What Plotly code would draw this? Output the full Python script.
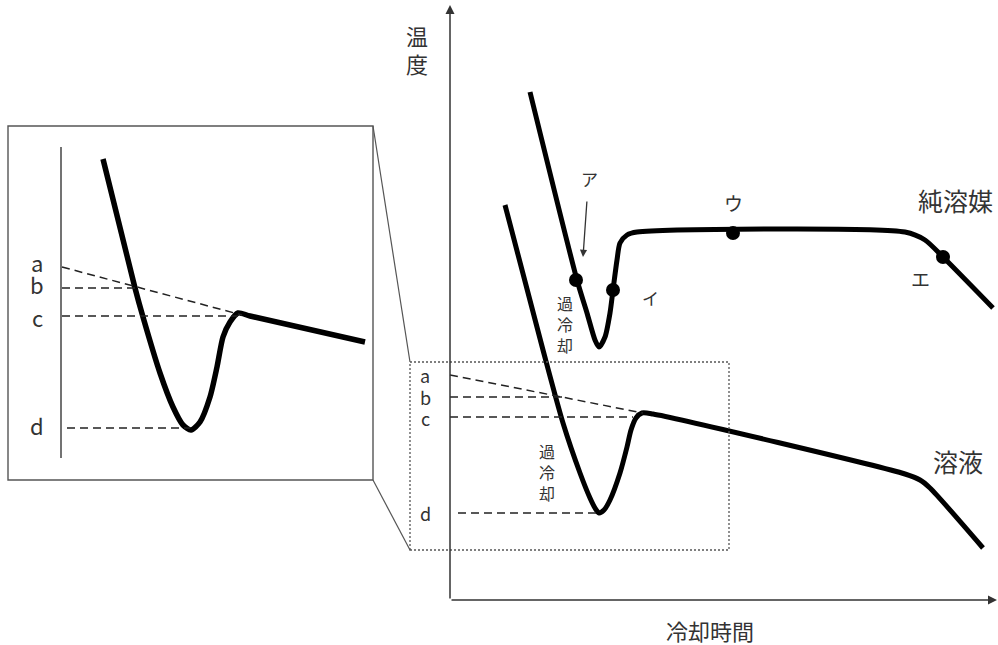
import plotly.graph_objects as go

# ---------------- data (main chart units: time t, temperature T) ----------------
solvent_t = [78, 125, 135, 143, 147, 153, 158, 161, 165, 168, 175, 185, 453, 473, 491, 541]
solvent_T = [508, 320, 287, 260, 253, 263, 287, 310, 340, 357, 365, 368, 368, 360, 343, 292]
solvent_dot_t = [124, 161, 281, 491]
solvent_dot_T = [320, 310, 367, 343]
solvent_dot_lbl = ["ア", "イ", "ウ", "エ"]

solution_t = [53, 91, 111, 128, 138, 143, 147, 152, 158, 168, 175, 179, 184, 190, 201, 453, 468, 478, 531]
solution_T = [395, 250, 177, 127, 102, 92, 87, 90, 100, 127, 153, 170, 182, 187, 186, 126, 120, 112, 52]

ref_labels = ["a", "b", "c", "d"]
ref_T = [225, 203, 183, 87]            # level of each reference temperature (main)
ref_end_t = [191, 111, 181, 146]       # where each dashed guide ends (main)
ref_end_T = [187, 203, 183, 87]

# inset (magnified) curve, own units u, V
inset_u = [42, 74, 82, 99, 112, 122, 130, 139, 149, 156, 162, 169, 177, 189, 304]
inset_V = [299, 170, 141, 85, 51, 33, 28, 36, 61, 91, 121, 136, 145, 142, 116]
inset_ref_V = [191, 170, 142, 30]
inset_ref_end_u = [181, 74, 177, 129]
inset_ref_end_V = [143, 170, 142, 30]

FONT = "Noto Sans CJK JP"
TXT = "#333333"
fig = go.Figure()

# ---------------- main chart ----------------
fig.add_trace(go.Scatter(x=solvent_t, y=solvent_T, mode="lines",
                         line=dict(color="black", width=5, shape="spline", smoothing=0.7),
                         hoverinfo="skip", showlegend=False))
fig.add_trace(go.Scatter(x=solution_t, y=solution_T, mode="lines",
                         line=dict(color="black", width=5, shape="spline", smoothing=0.7),
                         hoverinfo="skip", showlegend=False))
fig.add_trace(go.Scatter(x=solvent_dot_t, y=solvent_dot_T, mode="markers",
                         marker=dict(color="black", size=14),
                         hoverinfo="skip", showlegend=False))

starts_main = [-2, -2, -2, 6]
main_lbl_T = [225, 203, 182, 87]
for i in range(4):
    fig.add_trace(go.Scatter(x=[starts_main[i], ref_end_t[i]], y=[ref_T[i], ref_end_T[i]],
                             mode="lines", line=dict(color="#222", width=1.5, dash="8px,5px"),
                             hoverinfo="skip", showlegend=False))
    fig.add_annotation(x=-27, y=main_lbl_T[i], text=ref_labels[i], showarrow=False,
                       font=dict(family=FONT, size=18, color=TXT), xref="x", yref="y")

# ---------------- inset ----------------
fig.add_trace(go.Scatter(x=inset_u, y=inset_V, mode="lines", xaxis="x2", yaxis="y2",
                         line=dict(color="black", width=5.5, shape="spline", smoothing=0.7),
                         hoverinfo="skip", showlegend=False))
fig.add_trace(go.Scatter(x=[0, 0], y=[0, 311], mode="lines", xaxis="x2", yaxis="y2",
                         line=dict(color="#444", width=1.5), hoverinfo="skip", showlegend=False))
starts_inset = [1, 1, 1, 6]
inset_lbl_V = [196, 174, 141, 33]
for i in range(4):
    fig.add_trace(go.Scatter(x=[starts_inset[i], inset_ref_end_u[i]], y=[inset_ref_V[i], inset_ref_end_V[i]],
                             mode="lines", xaxis="x2", yaxis="y2",
                             line=dict(color="#222", width=1.5, dash="8px,5px"),
                             hoverinfo="skip", showlegend=False))
    fig.add_annotation(x=-24, y=inset_lbl_V[i], text=ref_labels[i], showarrow=False,
                       font=dict(family=FONT, size=22, color=TXT), xref="x2", yref="y2")

# ---------------- frames / connectors ----------------
fig.add_shape(type="rect", x0=-444, x1=-79, y0=120, y1=474, xref="x", yref="y",
              line=dict(color="#555", width=1.4))
fig.add_shape(type="rect", x0=-42, x1=277, y0=50, y1=238, xref="x", yref="y",
              line=dict(color="#555", width=1.3, dash="2px,2px"))
fig.add_shape(type="line", x0=-79, y0=474, x1=-42, y1=238, xref="x", yref="y",
              line=dict(color="#555", width=1.2))
fig.add_shape(type="line", x0=-79, y0=120, x1=-42, y1=50, xref="x", yref="y",
              line=dict(color="#555", width=1.2))

# ---------------- axes arrows ----------------
fig.add_annotation(x=-2, y=595, ax=-2, ay=0, xref="x", yref="y", axref="x", ayref="y",
                   text="", showarrow=True, arrowhead=2, arrowsize=1.2, arrowwidth=1.5, arrowcolor="#333")
fig.add_annotation(x=545, y=0, ax=-2, ay=0, xref="x", yref="y", axref="x", ayref="y",
                   text="", showarrow=True, arrowhead=2, arrowsize=1.2, arrowwidth=1.5, arrowcolor="#333")
# arrow pointing to ア
fig.add_annotation(x=131, y=343, ax=135, ay=400, xref="x", yref="y", axref="x", ayref="y",
                   text="", showarrow=True, arrowhead=2, arrowsize=1.1, arrowwidth=1.3, arrowcolor="#333")

# ---------------- texts ----------------
def txt(x, y, s, size, xref="x", yref="y"):
    fig.add_annotation(x=x, y=y, text=s, showarrow=False, xref=xref, yref=yref,
                       font=dict(family=FONT, size=size, color=TXT))

txt(-35, 565, "温", 22)
txt(-35, 537, "度", 22)
txt(258, -30, "冷却時間", 22)
txt(503, 400, "純溶媒", 25)
txt(506, 139, "溶液", 25)
lbl_off = [(13, 102), (37, -7), (0, 31), (-23, -21)]
lbl_size = [17, 17, 19, 19]
for i in range(4):
    txt(solvent_dot_t[i] + lbl_off[i][0], solvent_dot_T[i] + lbl_off[i][1], solvent_dot_lbl[i], lbl_size[i])
txt(113, 276, "過<br>冷<br>却", 16)
txt(95, 128, "過<br>冷<br>却", 16)

fig.update_layout(
    width=998, height=645,
    margin=dict(l=0, r=0, t=0, b=0),
    paper_bgcolor="white", plot_bgcolor="white",
    xaxis=dict(range=[-452, 546], domain=[0, 1], visible=False, fixedrange=True),
    yaxis=dict(range=[-45, 600], domain=[0, 1], visible=False, fixedrange=True),
    xaxis2=dict(range=[-53, 312], domain=[8 / 998, 373 / 998], visible=False, anchor="y2"),
    yaxis2=dict(range=[-22, 332], domain=[(645 - 480) / 645, (645 - 126) / 645], visible=False, anchor="x2"),
)

fig.write_html("out.html", config={"displayModeBar": False},
               post_script="document.body.style.margin='0px';document.body.style.overflow='hidden';")
